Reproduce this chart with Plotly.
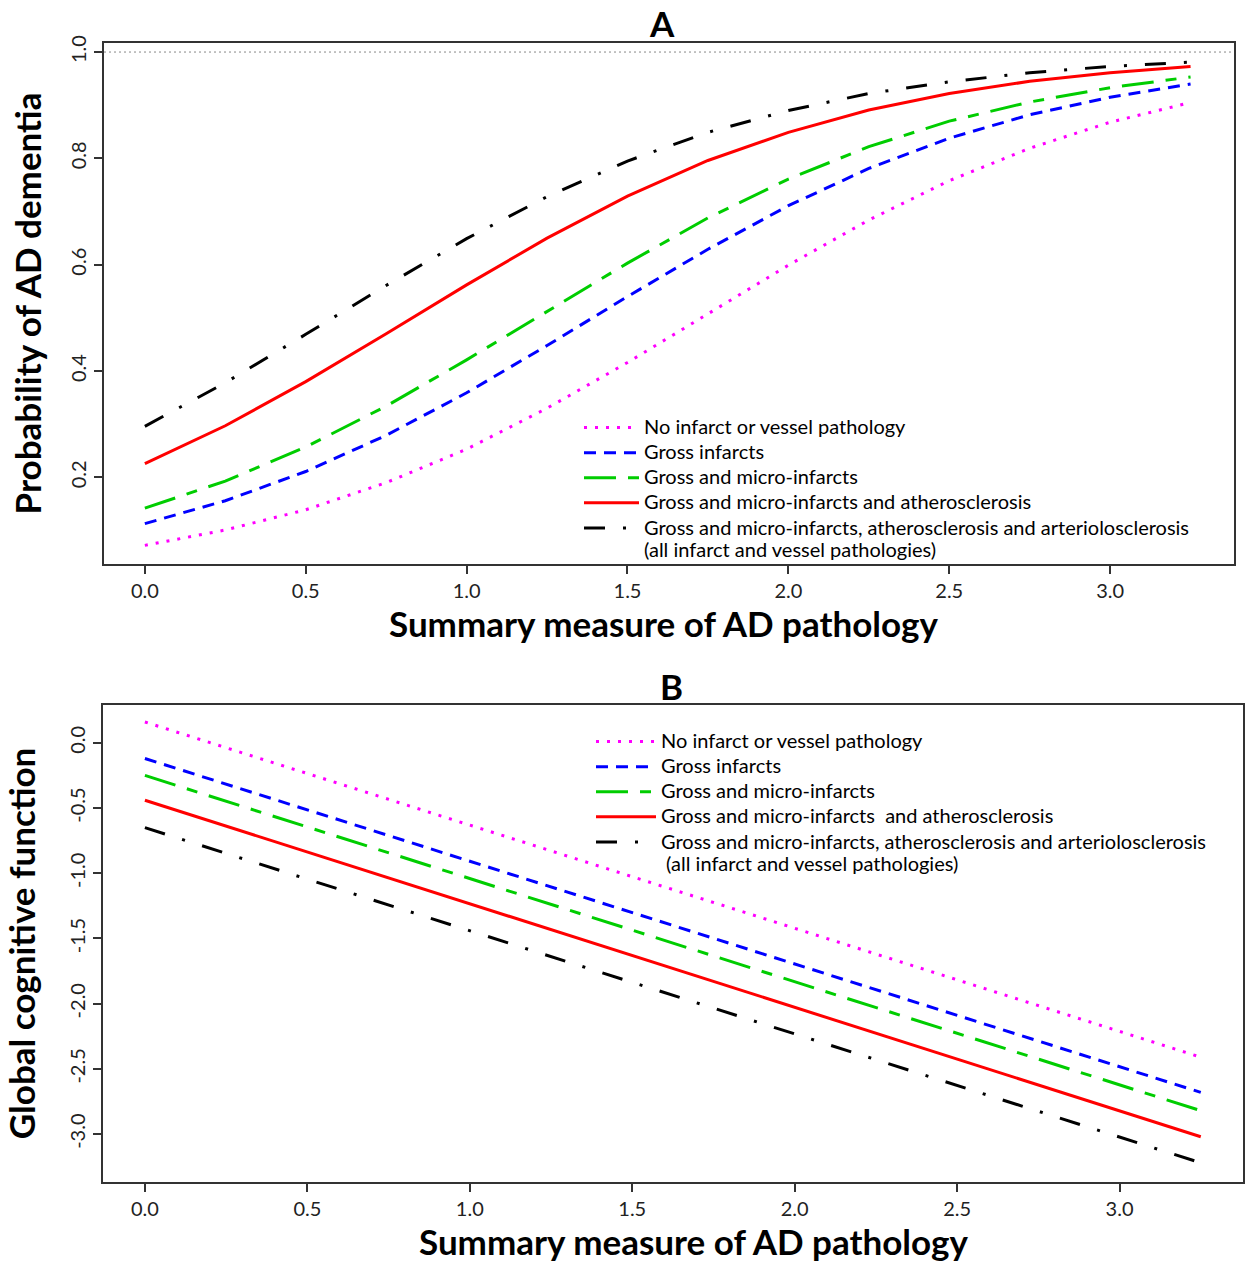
import plotly.graph_objects as go

# ---------------- data ----------------
x_a = [0.0, 0.25, 0.5, 0.75, 1.0, 1.25, 1.5, 1.75, 2.0, 2.25, 2.5, 2.75, 3.0, 3.25]
prob_none = [0.072, 0.101, 0.139, 0.190, 0.253, 0.330, 0.416, 0.508, 0.599, 0.684, 0.758, 0.819, 0.868, 0.905]
prob_gross = [0.113, 0.156, 0.211, 0.279, 0.359, 0.448, 0.540, 0.629, 0.711, 0.781, 0.838, 0.882, 0.915, 0.940]
prob_micro = [0.142, 0.193, 0.257, 0.334, 0.421, 0.512, 0.603, 0.688, 0.761, 0.822, 0.870, 0.906, 0.933, 0.953]
prob_ather = [0.226, 0.297, 0.380, 0.470, 0.562, 0.650, 0.729, 0.796, 0.849, 0.891, 0.922, 0.945, 0.961, 0.973]
prob_all = [0.296, 0.378, 0.469, 0.561, 0.649, 0.728, 0.795, 0.849, 0.890, 0.922, 0.944, 0.961, 0.973, 0.981]

x_b = [0.0, 3.25]
cog_none = [0.16, -2.41]
cog_gross = [-0.12, -2.68]
cog_micro = [-0.25, -2.82]
cog_ather = [-0.44, -3.02]
cog_all = [-0.65, -3.22]

names_a = [
    "No infarct or vessel pathology",
    "Gross infarcts",
    "Gross and micro-infarcts",
    "Gross and micro-infarcts and atherosclerosis",
    "Gross and micro-infarcts, atherosclerosis and arteriolosclerosis<br>(all infarct and vessel pathologies)",
]
names_b = [
    "No infarct or vessel pathology",
    "Gross infarcts",
    "Gross and micro-infarcts",
    "Gross and micro-infarcts\u00a0 and atherosclerosis",
    "Gross and micro-infarcts, atherosclerosis and arteriolosclerosis<br>\u00a0(all infarct and vessel pathologies)",
]

x_tickvals = [0.0, 0.5, 1.0, 1.5, 2.0, 2.5, 3.0]
x_ticktext = ["0.0", "0.5", "1.0", "1.5", "2.0", "2.5", "3.0"]
ya_tickvals = [0.2, 0.4, 0.6, 0.8, 1.0]
ya_ticktext = ["0.2", "0.4", "0.6", "0.8", "1.0"]
yb_tickvals = [0.0, -0.5, -1.0, -1.5, -2.0, -2.5, -3.0]
yb_ticktext = ["0.0", "-0.5", "-1.0", "-1.5", "-2.0", "-2.5", "-3.0"]

x_title = "Summary measure of AD pathology"
ya_title = "Probability of AD dementia"
yb_title = "Global cognitive function"

# ---------------- styles ----------------
FONT = "Lato"
colors = ["#FF00FF", "#0000FF", "#00CD00", "#FF0000", "#000000"]
dashes = ["3px,8px", "12px,8px", "32px,12px,11px,12px", "solid", "21px,18px,3px,18px"]
W, H = 1248, 1266
LEG_TXT = 20


def leg_label(s):
    # legend text drawn a little larger than the legend's line-pitch font
    return "<br>".join('<span style="font-size:%spx">%s</span>' % (LEG_TXT, p) for p in s.split("<br>"))


fig = go.Figure()
series_a = [prob_none, prob_gross, prob_micro, prob_ather, prob_all]
series_b = [cog_none, cog_gross, cog_micro, cog_ather, cog_all]

for ys, nm, c, d in zip(series_a, names_a, colors, dashes):
    fig.add_trace(go.Scatter(x=x_a, y=ys, mode="lines", name=leg_label(nm),
                             line=dict(color=c, width=3, dash=d),
                             xaxis="x", yaxis="y", legend="legend"))
for ys, nm, c, d in zip(series_b, names_b, colors, dashes):
    fig.add_trace(go.Scatter(x=x_b, y=ys, mode="lines", name=leg_label(nm),
                             line=dict(color=c, width=3, dash=d),
                             xaxis="x2", yaxis="y2", legend="legend2"))

axis_common = dict(showline=True, linecolor="#333", linewidth=1.5, mirror=True,
                   ticks="outside", ticklen=8, tickwidth=1.5, tickcolor="#333",
                   showgrid=False, zeroline=False, automargin=False,
                   tickfont=dict(family=FONT, size=20, color="#222"))
title_font = dict(family=FONT, size=35, color="#000", weight="bold")


def px_x(p):
    return p / W


def px_y(p):
    return 1 - p / H


fig.update_layout(
    template="none",
    width=W, height=H,
    margin=dict(l=0, r=0, t=0, b=0, pad=0),
    paper_bgcolor="white", plot_bgcolor="white",
    font=dict(family=FONT, color="#000"),
    xaxis=dict(axis_common, domain=[px_x(104), px_x(1234)], range=[-0.127, 3.385],
               tickvals=x_tickvals, ticktext=x_ticktext, anchor="y"),
    yaxis=dict(axis_common, domain=[px_y(564), px_y(43)], range=[0.037, 1.017],
               tickvals=ya_tickvals, ticktext=ya_ticktext, tickangle=-90, anchor="x",
               title=dict(text=ya_title, font=title_font, standoff=14)),
    xaxis2=dict(axis_common, domain=[px_x(103), px_x(1243)], range=[-0.129, 3.38],
                tickvals=x_tickvals, ticktext=x_ticktext, anchor="y2"),
    yaxis2=dict(axis_common, domain=[px_y(1182), px_y(705)], range=[-3.367, 0.29],
                tickvals=yb_tickvals, ticktext=yb_ticktext, tickangle=-90, anchor="x2",
                title=dict(text=yb_title, font=title_font, standoff=22)),
    legend=dict(x=px_x(579), y=px_y(410), xanchor="left", yanchor="top",
                bgcolor="rgba(0,0,0,0)", borderwidth=0, itemwidth=55, valign="top",
                font=dict(family=FONT, size=17, color="#000"), tracegroupgap=0),
    legend2=dict(x=px_x(591), y=px_y(724), xanchor="left", yanchor="top",
                 bgcolor="rgba(0,0,0,0)", borderwidth=0, itemwidth=60, valign="top",
                 font=dict(family=FONT, size=17, color="#000"), tracegroupgap=0),
    showlegend=True,
)

# dotted reference line at probability 1.0
fig.add_shape(type="line", xref="x domain", yref="y", x0=0, x1=1, y0=1.0, y1=1.0,
              line=dict(color="#888", width=1, dash="2px,3px"))

# x-axis titles
fig.add_annotation(text=x_title, xref="paper", yref="paper", x=px_x(664), y=px_y(623),
                   showarrow=False, xanchor="center", yanchor="middle", font=title_font)
fig.add_annotation(text=x_title, xref="paper", yref="paper", x=px_x(694), y=px_y(1241),
                   showarrow=False, xanchor="center", yanchor="middle", font=title_font)

# panel labels
fig.add_annotation(text="A", xref="paper", yref="paper", x=px_x(662), y=px_y(0),
                   showarrow=False, xanchor="center", yanchor="top",
                   font=dict(family=FONT, size=35, color="#000", weight="bold"))
fig.add_annotation(text="B", xref="paper", yref="paper", x=px_x(671), y=px_y(686),
                   showarrow=False, xanchor="center", yanchor="middle",
                   font=dict(family=FONT, size=35, color="#000", weight="bold"))

fig.write_html("out.html", config={"displayModeBar": False},
               post_script="document.body.style.margin='0';document.body.style.overflow='hidden';")
